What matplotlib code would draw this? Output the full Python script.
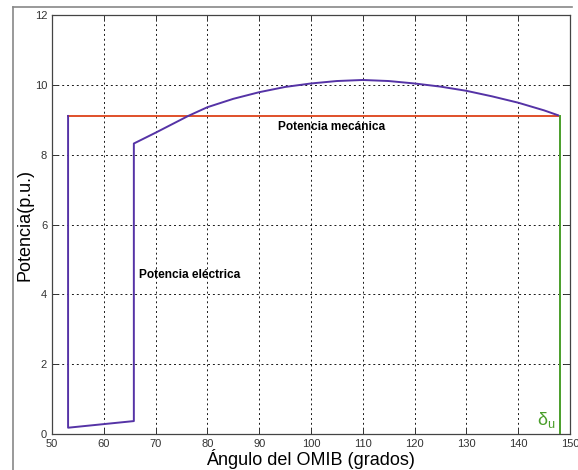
import matplotlib
matplotlib.use("Agg")
import matplotlib.pyplot as plt
from matplotlib.lines import Line2D

plt.rcParams["font.family"] = ["Liberation Sans", "DejaVu Sans"]
plt.rcParams["mathtext.fontset"] = "custom"
plt.rcParams["mathtext.rm"] = "Liberation Sans"

# Electrical power trajectory (degrees, p.u.)
delta_e = [53.1, 53.1, 65.8, 65.8, 70, 76.3, 80, 85, 90, 95, 100, 105, 110,
           115, 120, 125, 130, 135, 140, 145, 147.7]
p_e = [9.11, 0.18, 0.37, 8.32, 8.63, 9.11, 9.36, 9.60, 9.79, 9.94, 10.04,
       10.11, 10.14, 10.11, 10.04, 9.95, 9.83, 9.67, 9.49, 9.27, 9.13]

# Mechanical power level
delta_m = [53.1, 147.7]
p_m = [9.11, 9.11]

# Unstable equilibrium angle marker
delta_u = [148.0, 148.0]
p_u = [0.0, 9.11]

x_ticks = [50, 60, 70, 80, 90, 100, 110, 120, 130, 140, 150]
y_ticks = [0, 2, 4, 6, 8, 10, 12]

fig = plt.figure(figsize=(5.78, 4.70), dpi=100)
ax = fig.add_axes([0.090, 0.0766, 0.896, 0.8914])

ax.plot(delta_m, p_m, color="#e0502a", lw=1.4, zorder=3)
ax.plot(delta_e, p_e, color="#5533a6", lw=1.4, zorder=4)
ax.plot(delta_u, p_u, color="#4a9e2a", lw=1.4, zorder=3)

ax.set_xlim(50, 150)
ax.set_ylim(0, 12)
ax.set_xticks(x_ticks)
ax.set_yticks(y_ticks)
ax.grid(True, color="black", linestyle=(0, (2, 3)), linewidth=0.7, alpha=0.9)
ax.tick_params(direction="in", top=True, right=True, labelsize=8,
               colors="#333333", length=4, width=0.7)
for sp in ax.spines.values():
    sp.set_color("#444444")
    sp.set_linewidth(0.9)

ax.set_xlabel("Ángulo del OMIB (grados)", fontsize=13, labelpad=0)
ax.set_ylabel("Potencia(p.u.)", fontsize=13)
ax.yaxis.set_label_coords(-0.036, 0.5)

ax.text(93.6, 8.79, "Potencia mecánica", fontsize=8.6, fontweight="bold",
        ha="left", va="center")
ax.text(66.8, 4.55, "Potencia eléctrica", fontsize=8.6, fontweight="bold",
        ha="left", va="center")
ax.text(143.7, 0.12, r"$\mathregular{\delta_u}$", fontsize=13,
        color="#4a9e2a", ha="left", va="bottom")

# Window frame edges
fig.add_artist(Line2D([13 / 578, 13 / 578], [0, 1 - 7 / 470],
                      transform=fig.transFigure, color="#888888", lw=1.2))
fig.add_artist(Line2D([13 / 578, 572 / 578], [1 - 7 / 470, 1 - 7 / 470],
                      transform=fig.transFigure, color="#888888", lw=1.2))

fig.savefig("out.png", dpi=100)
